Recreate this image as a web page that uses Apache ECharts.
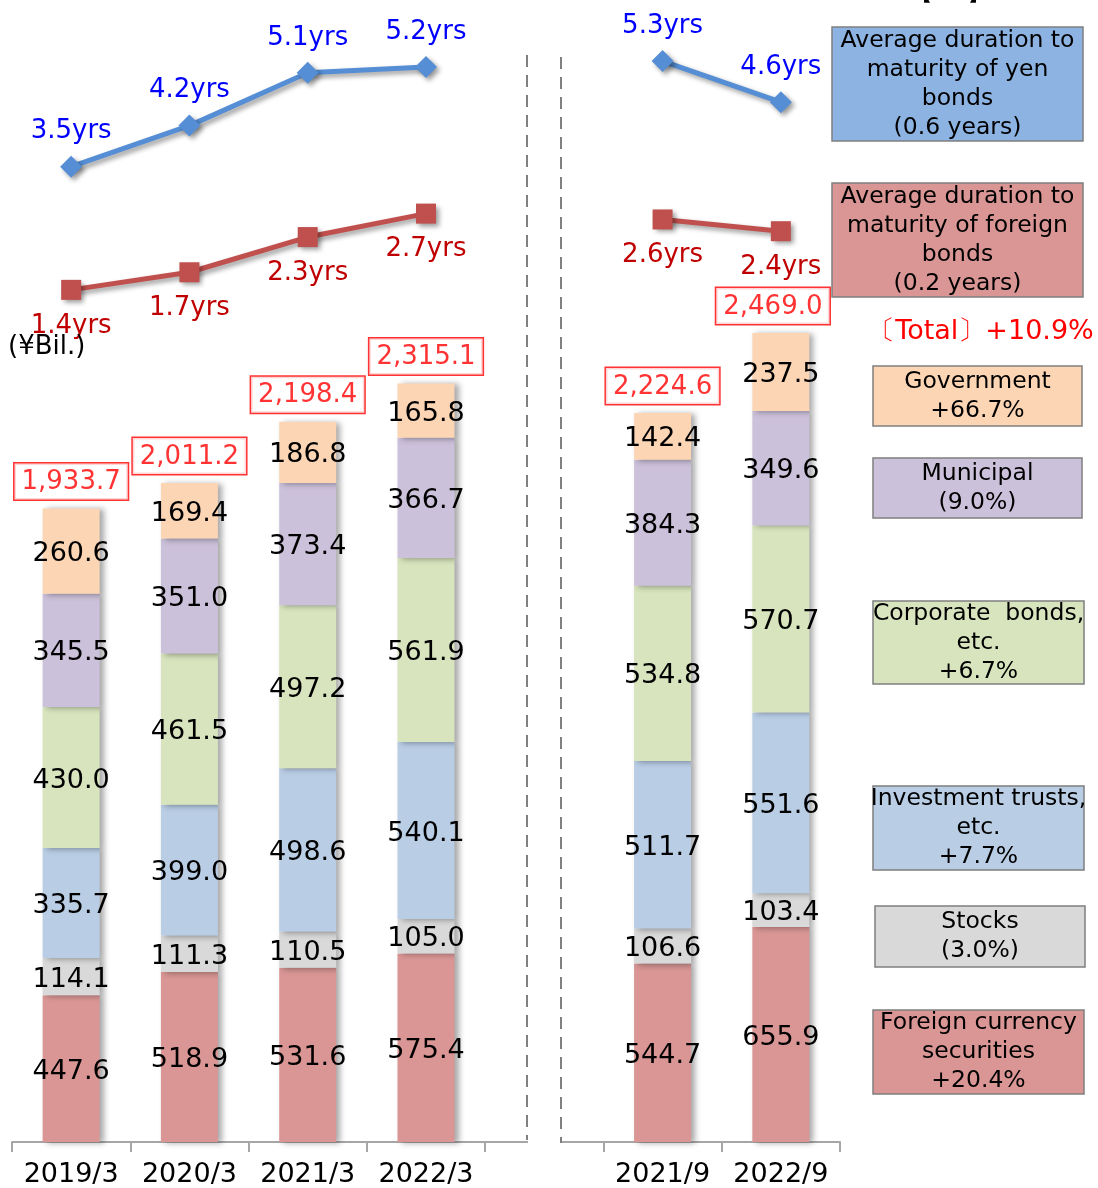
<!DOCTYPE html>
<html>
<head>
<meta charset="utf-8">
<script src="https://cdn.jsdelivr.net/npm/echarts@6/dist/echarts.min.js"></script>
<style>
  html, body { margin: 0; padding: 0; background: #fff; }
  #main { width: 1098px; height: 1188px; }
</style>
</head>
<body>
<div id="main"></div>
<script>
var categories = ['2019/3', '2020/3', '2021/3', '2022/3', '', '2021/9', '2022/9'];

// ¥Bil., bottom to top of each stack
var foreign    = [447.6, 518.9, 531.6, 575.4, null, 544.7, 655.9];
var stocks     = [114.1, 111.3, 110.5, 105.0, null, 106.6, 103.4];
var trusts     = [335.7, 399.0, 498.6, 540.1, null, 511.7, 551.6];
var corporate  = [430.0, 461.5, 497.2, 561.9, null, 534.8, 570.7];
var municipal  = [345.5, 351.0, 373.4, 366.7, null, 384.3, 349.6];
var government = [260.6, 169.4, 186.8, 165.8, null, 142.4, 237.5];
var totals     = [1933.7, 2011.2, 2198.4, 2315.1, null, 2224.6, 2469.0];

// average duration to maturity (years)
var yenDuration     = [3.5, 4.2, 5.1, 5.2, null, 5.3, 4.6];
var foreignDuration = [1.4, 1.7, 2.3, 2.7, null, 2.6, 2.4];

var FONT = '"DejaVu Sans", Verdana, sans-serif';

var myChart = echarts.init(document.getElementById('main'));

function barSeries(name, data, color) {
  return {
    name: name,
    type: 'bar',
    stack: 'total',
    xAxisIndex: 0,
    yAxisIndex: 0,
    barWidth: 57,
    data: data,
    itemStyle: {
      color: color,
      shadowColor: 'rgba(0,0,0,0.35)',
      shadowBlur: 6,
      shadowOffsetX: 4,
      shadowOffsetY: 1
    },
    label: {
      show: true,
      position: 'inside',
      offset: [0, 3],
      color: '#000',
      fontSize: 27,
      fontFamily: FONT,
      formatter: function (p) { return p.value == null ? '' : p.value.toFixed(1); }
    }
  };
}

// totals in red boxes above the bars (last one nudged left, as in the slide)
var totalData = totals.map(function (v, i) {
  if (i === totals.length - 1) return { value: v, label: { offset: [-8, 0] } };
  return v;
});

function box(x, y, w, h, fill, text) {
  return [
    { type: 'rect', shape: { x: x, y: y, width: w, height: h }, z: 50,
      style: { fill: fill, stroke: '#7f7f7f', lineWidth: 1.5 } },
    { type: 'text', x: x + w / 2, y: y + h / 2, z: 51,
      style: { text: text, fill: '#000', font: '23.5px ' + FONT, lineHeight: 29,
               align: 'center', verticalAlign: 'middle' } }
  ];
}

var graphics = [].concat(
  box(832, 27, 251, 114, '#8db3e2', 'Average duration to\nmaturity of yen\nbonds\n(0.6 years)'),
  box(832, 183, 251, 114, '#da9694', 'Average duration to\nmaturity of foreign\nbonds\n(0.2 years)'),
  box(873, 366, 209, 60, '#fcd5b5', 'Government\n+66.7%'),
  box(873, 458, 209, 60, '#ccc1da', 'Municipal\n(9.0%)'),
  box(873, 601, 211, 83, '#d7e4bd', 'Corporate  bonds,\netc.\n+6.7%'),
  box(873, 786, 211, 84, '#b9cde5', 'Investment trusts,\netc.\n+7.7%'),
  box(875, 906, 210, 61, '#d9d9d9', 'Stocks\n(3.0%)'),
  box(873, 1010, 211, 84, '#d99694', 'Foreign currency\nsecurities\n+20.4%'),
  [
    { type: 'text', x: 981, y: 332, z: 51,
      style: { text: '〔Total〕+10.9%', fill: '#ff0000', font: '27px ' + FONT,
               align: 'center', verticalAlign: 'middle' } },
    { type: 'text', x: 950, y: -6, z: 51,
      style: { text: '【Tot】', fill: '#000', font: '24px ' + FONT,
               align: 'center', verticalAlign: 'middle' } },
    { type: 'text', x: 8, y: 347, z: 51,
      style: { text: '(¥Bil.)', fill: '#000', font: '26px ' + FONT,
               align: 'left', verticalAlign: 'middle' } },
    // gap in the axis line between the two periods
    { type: 'rect', shape: { x: 528, y: 1138, width: 32, height: 8 }, z: 100,
      style: { fill: '#fff' } },
    { type: 'line', shape: { x1: 527, y1: 55, x2: 527, y2: 1140 }, z: 101,
      style: { stroke: '#808080', lineWidth: 2, lineDash: [12, 8] } },
    { type: 'line', shape: { x1: 561, y1: 57, x2: 561, y2: 1143 }, z: 101,
      style: { stroke: '#808080', lineWidth: 2, lineDash: [12, 8] } }
  ]
);

var option = {
  animation: false,
  backgroundColor: '#fff',
  textStyle: { fontFamily: FONT },
  grid: [
    { left: 12, width: 828, top: 159, height: 984 },
    { left: 12, width: 828, top: 20, height: 352 }
  ],
  xAxis: [
    {
      type: 'category',
      gridIndex: 0,
      data: categories,
      axisLine: { lineStyle: { color: '#a6a6a6', width: 2 } },
      axisTick: { show: true, length: 10, lineStyle: { color: '#a6a6a6', width: 2 } },
      axisLabel: { color: '#000', fontSize: 27, fontFamily: FONT, margin: 19, interval: 0 }
    },
    { type: 'category', gridIndex: 1, data: categories, show: false }
  ],
  yAxis: [
    { type: 'value', gridIndex: 0, min: 0, max: 3000, show: false, splitLine: { show: false } },
    { type: 'value', gridIndex: 1, min: 0, max: 6, show: false, splitLine: { show: false } }
  ],
  series: [
    barSeries('Foreign currency securities', foreign, '#d99694'),
    barSeries('Stocks', stocks, '#d9d9d9'),
    barSeries('Investment trusts, etc.', trusts, '#b9cde5'),
    barSeries('Corporate bonds, etc.', corporate, '#d7e4bd'),
    barSeries('Municipal', municipal, '#ccc1da'),
    barSeries('Government', government, '#fcd5b5'),
    {
      name: 'Total',
      type: 'scatter',
      xAxisIndex: 0,
      yAxisIndex: 0,
      symbolSize: 0,
      data: totalData,
      z: 10,
      label: {
        show: true,
        position: 'top',
        distance: 9,
        color: '#ff0000',
        fontSize: 26,
        fontFamily: FONT,
        backgroundColor: '#fff',
        borderColor: '#ff0000',
        borderWidth: 1.5,
        padding: [6, 7, 4, 7],
        formatter: function (p) {
          return p.value == null ? '' : p.value.toLocaleString('en-US', { minimumFractionDigits: 1, maximumFractionDigits: 1 });
        }
      }
    },
    {
      name: 'Yen bonds duration',
      type: 'line',
      xAxisIndex: 1,
      yAxisIndex: 1,
      data: yenDuration,
      symbol: 'diamond',
      symbolSize: 22,
      itemStyle: { color: '#558ed5', shadowColor: 'rgba(0,0,0,0.4)', shadowBlur: 5, shadowOffsetX: 3, shadowOffsetY: 3 },
      lineStyle: { color: '#558ed5', width: 5, shadowColor: 'rgba(0,0,0,0.4)', shadowBlur: 5, shadowOffsetX: 3, shadowOffsetY: 3 },
      label: {
        show: true,
        position: 'top',
        distance: 11,
        color: '#0000ff',
        fontSize: 26,
        fontFamily: FONT,
        formatter: function (p) { return p.value + 'yrs'; }
      }
    },
    {
      name: 'Foreign bonds duration',
      type: 'line',
      xAxisIndex: 1,
      yAxisIndex: 1,
      data: foreignDuration,
      symbol: 'rect',
      symbolSize: 20,
      itemStyle: { color: '#c0504d', shadowColor: 'rgba(0,0,0,0.4)', shadowBlur: 5, shadowOffsetX: 3, shadowOffsetY: 3 },
      lineStyle: { color: '#c0504d', width: 5, shadowColor: 'rgba(0,0,0,0.4)', shadowBlur: 5, shadowOffsetX: 3, shadowOffsetY: 3 },
      label: {
        show: true,
        position: 'bottom',
        distance: 13,
        color: '#c00000',
        fontSize: 26,
        fontFamily: FONT,
        formatter: function (p) { return p.value + 'yrs'; }
      }
    }
  ],
  graphic: graphics
};

myChart.setOption(option);
</script>
</body>
</html>
